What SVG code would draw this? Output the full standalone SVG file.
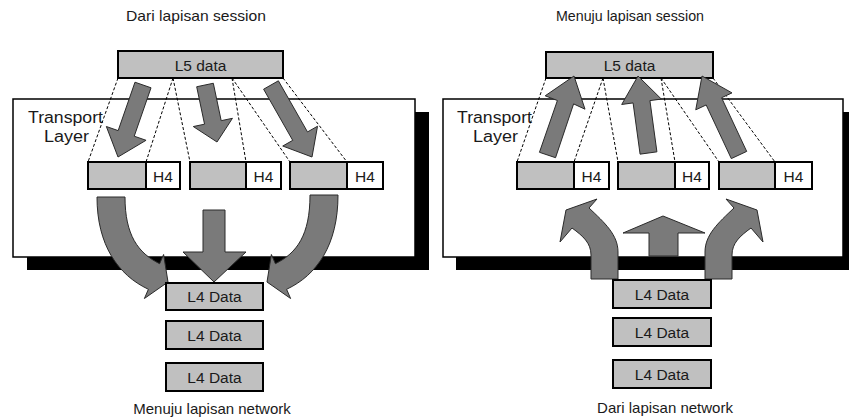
<svg xmlns="http://www.w3.org/2000/svg" width="849" height="419" viewBox="0 0 849 419">
  <style>
    .bg { fill: #ffffff; }
    .shadow { fill: #000000; }
    .layer { fill: #ffffff; stroke: #000000; stroke-width: 1.5; }
    .pdu { fill: #c0c0c0; stroke: #000000; stroke-width: 2; }
    .hdr { fill: #ffffff; stroke: #000000; stroke-width: 2; }
    .arrow { fill: #7a7a7a; stroke: #2a2a2a; stroke-width: 1; stroke-linejoin: miter; }
    .map { stroke: #000000; stroke-width: 1; stroke-dasharray: 3 2; fill: none; }
    .lbl { font-family: "Liberation Sans", Arial, sans-serif; font-size: 15.5px; fill: #1a1a1a; text-anchor: middle; }
    .layername { font-family: "Liberation Sans", Arial, sans-serif; font-size: 16px; fill: #1a1a1a; }
    .caption { font-family: "Liberation Sans", Arial, sans-serif; font-size: 15px; fill: #1a1a1a; text-anchor: middle; }
    .captop { font-family: "Liberation Sans", Arial, sans-serif; font-size: 15px; fill: #1a1a1a; text-anchor: middle; }
  </style>

  <rect class="bg" x="0" y="0" width="849" height="419"/>

  <!-- ===== Sending side (segmentation) ===== -->
  <g id="send-side">
    <text class="captop" x="196" y="21" textLength="140" lengthAdjust="spacingAndGlyphs">Dari lapisan session</text>

    <g id="send-transport">
      <rect class="shadow" x="27" y="112" width="402" height="158"/>
      <rect class="layer" x="13" y="99" width="402" height="158"/>
      <text class="layername" x="28" y="123" textLength="75" lengthAdjust="spacingAndGlyphs">Transport</text>
      <text class="layername" x="44" y="142" textLength="45" lengthAdjust="spacingAndGlyphs">Layer</text>
    </g>

    <g id="send-l5">
      <rect class="pdu" x="118" y="51" width="165" height="27"/>
      <text class="lbl" x="200.5" y="70.5">L5 data</text>
    </g>

    <g id="send-seg1">
      <rect class="pdu" x="88" y="162" width="58" height="27"/>
      <rect class="hdr" x="146" y="162" width="34" height="27"/>
      <text class="lbl" x="163" y="181.5">H4</text>
    </g>
    <g id="send-seg2">
      <rect class="pdu" x="190" y="162" width="56" height="27"/>
      <rect class="hdr" x="246" y="162" width="35" height="27"/>
      <text class="lbl" x="263.5" y="181.5">H4</text>
    </g>
    <g id="send-seg3">
      <rect class="pdu" x="290" y="162" width="57" height="27"/>
      <rect class="hdr" x="347" y="162" width="36" height="27"/>
      <text class="lbl" x="365" y="181.5">H4</text>
    </g>

    <g id="send-connectors">
      <!-- mapping of the L5 data pieces onto the segments -->
      <line class="map" x1="118" y1="78" x2="88" y2="162"/>
      <line class="map" x1="173" y1="78" x2="146" y2="162"/>
      <line class="map" x1="173" y1="78" x2="190" y2="162"/>
      <line class="map" x1="232" y1="78" x2="246" y2="162"/>
      <line class="map" x1="232" y1="78" x2="290" y2="162"/>
      <line class="map" x1="283" y1="78" x2="347" y2="162"/>
      <!-- block arrows: data into segments -->
      <polygon class="arrow" points="134.97,82.21 118.17,130.61 106.35,126.51 118,157 146.05,140.29 134.23,136.19 151.03,87.79"/>
      <polygon class="arrow" points="196.68,86.75 204.56,124.18 193.31,126.55 217,142 232.45,118.31 221.2,120.68 213.32,83.25"/>
      <polygon class="arrow" points="263.61,89.21 292.73,140.35 282.74,146.04 312,157 317.5,126.24 307.51,131.93 278.39,80.79"/>
      <!-- block arrows: segments down to the network layer -->
      <path class="arrow" d="M97,197 H125 C125,235 138,253 159.6,263.7 L163.6,254.5 L168,282 L144.4,298.5 L148.4,289.3 C118,275 97,245 97,197 Z"/>
      <path class="arrow" d="M203,210 H225 V252 H246 L214,282 L183,252 H203 Z"/>
      <path class="arrow" d="M338,195 H310 C310,235 297,253 275.4,263.7 L271.4,254.5 L267,282 L290.6,298.5 L286.6,289.3 C317,275 338,245 338,195 Z"/>
    </g>

    <g id="send-l4-1">
      <rect class="pdu" x="166" y="283" width="97" height="27"/>
      <text class="lbl" x="214.5" y="302">L4 Data</text>
    </g>
    <g id="send-l4-2">
      <rect class="pdu" x="166" y="321" width="97" height="28"/>
      <text class="lbl" x="214.5" y="340.5">L4 Data</text>
    </g>
    <g id="send-l4-3">
      <rect class="pdu" x="166" y="363" width="97" height="28"/>
      <text class="lbl" x="214.5" y="382.5">L4 Data</text>
    </g>

    <text class="caption" x="212" y="414">Menuju lapisan network</text>
  </g>

  <!-- ===== Receiving side (reassembly) ===== -->
  <g id="recv-side">
    <text class="captop" x="630" y="21" textLength="148" lengthAdjust="spacingAndGlyphs">Menuju lapisan session</text>

    <g id="recv-transport">
      <rect class="shadow" x="456" y="112" width="400" height="158"/>
      <rect class="layer" x="443" y="99" width="400" height="158"/>
      <text class="layername" x="457" y="123" textLength="75" lengthAdjust="spacingAndGlyphs">Transport</text>
      <text class="layername" x="473" y="142" textLength="45" lengthAdjust="spacingAndGlyphs">Layer</text>
    </g>

    <g id="recv-l5">
      <rect class="pdu" x="546" y="52" width="167" height="26"/>
      <text class="lbl" x="629.5" y="70.5">L5 data</text>
    </g>

    <g id="recv-seg1">
      <rect class="pdu" x="517" y="162" width="57" height="27"/>
      <rect class="hdr" x="574" y="162" width="35" height="27"/>
      <text class="lbl" x="591.5" y="181.5">H4</text>
    </g>
    <g id="recv-seg2">
      <rect class="pdu" x="618" y="162" width="57" height="27"/>
      <rect class="hdr" x="675" y="162" width="34" height="27"/>
      <text class="lbl" x="692" y="181.5">H4</text>
    </g>
    <g id="recv-seg3">
      <rect class="pdu" x="719" y="162" width="56" height="27"/>
      <rect class="hdr" x="775" y="162" width="37" height="27"/>
      <text class="lbl" x="793.5" y="181.5">H4</text>
    </g>

    <g id="recv-connectors">
      <line class="map" x1="546" y1="78" x2="517" y2="162"/>
      <line class="map" x1="603" y1="78" x2="574" y2="162"/>
      <line class="map" x1="603" y1="78" x2="618" y2="162"/>
      <line class="map" x1="661" y1="78" x2="675" y2="162"/>
      <line class="map" x1="661" y1="78" x2="719" y2="162"/>
      <line class="map" x1="713" y1="78" x2="775" y2="162"/>
      <!-- block arrows: segments up into L5 data -->
      <polygon class="arrow" points="555.56,157.7 573.6,103.9 585,109.2 574,76 545.2,95.8 557.4,100.5 539.44,152.3"/>
      <polygon class="arrow" points="656.92,151.85 649.93,100.62 661.33,99.07 638,76 621.69,104.47 633.09,102.92 640.08,154.15"/>
      <polygon class="arrow" points="746.7,151.4 721.57,97.76 731.98,92.88 702,76 695.76,109.84 706.17,104.96 731.3,158.6"/>
      <!-- block arrows: network layer up to the segments -->
      <path class="arrow" d="M591,279 L591,255 C591,243 583,236 572,228 L560,242 L566,210 L597,199 L589,208 C605,223 618,235 618,252 L618,279 Z"/>
      <path class="arrow" d="M649,256 V233 H623 L663,216 L705,233 H678 V256 Z"/>
      <path class="arrow" d="M732,279 L732,255 C732,243 740,236 751,228 L763,242 L757,210 L726,199 L734,208 C718,223 705,235 705,252 L705,279 Z"/>
    </g>

    <g id="recv-l4-1">
      <rect class="pdu" x="613" y="280" width="98" height="28"/>
      <text class="lbl" x="662" y="299.5">L4 Data</text>
    </g>
    <g id="recv-l4-2">
      <rect class="pdu" x="613" y="318" width="98" height="28"/>
      <text class="lbl" x="662" y="337.5">L4 Data</text>
    </g>
    <g id="recv-l4-3">
      <rect class="pdu" x="613" y="360" width="98" height="28"/>
      <text class="lbl" x="662" y="379.5">L4 Data</text>
    </g>

    <text class="caption" x="665" y="413">Dari lapisan network</text>
  </g>
</svg>
